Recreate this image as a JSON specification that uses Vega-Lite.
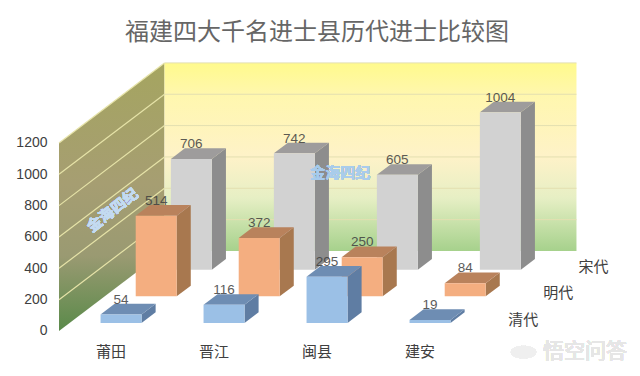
{
"$schema":"https://vega.github.io/schema/vega-lite/v6.json",
"width":590,"height":288,
"autosize":"none",
"padding":{"left":50,"top":50,"right":0,"bottom":38},
"background":"white",
"view":{"stroke":null},
"title":{"text":"福建四大千名进士县历代进士比较图","anchor":"start","frame":"group","dx":75,"offset":5,"fontSize":24,"fontWeight":"normal","font":"Noto Sans CJK SC","color":"#666666"},
"datasets":{
"walls":[{"z":0},{"z":3}],
"grid":[{"v":200},{"v":400},{"v":600},{"v":800},{"v":1000},{"v":1200}],
"depthLabels":[{"series":"清代","s":0},{"series":"明代","s":1},{"series":"宋代","s":2}]
},
"data":{"values":[
{"cat":"莆田","series":"清代","value":54},
{"cat":"晋江","series":"清代","value":116},
{"cat":"闽县","series":"清代","value":295},
{"cat":"建安","series":"清代","value":19},
{"cat":"莆田","series":"明代","value":514},
{"cat":"晋江","series":"明代","value":372},
{"cat":"闽县","series":"明代","value":250},
{"cat":"建安","series":"明代","value":84},
{"cat":"莆田","series":"宋代","value":706},
{"cat":"晋江","series":"宋代","value":742},
{"cat":"闽县","series":"宋代","value":605},
{"cat":"建安","series":"宋代","value":1004}
]},
"transform":[
{"calculate":"indexof(['莆田','晋江','闽县','建安'],datum.cat)+0.5","as":"cx"},
{"calculate":"indexof(['清代','明代','宋代'],datum.series)+0.3","as":"z0"},
{"calculate":"[0,1]","as":"e"},
{"flatten":["e"]},
{"calculate":"datum.cx-0.199+(datum.z0+0.4*datum.e)*0.3414","as":"xl"},
{"calculate":"datum.cx+0.199+(datum.z0+0.4*datum.e)*0.3414","as":"xr"},
{"calculate":"(datum.z0+0.4*datum.e)*170.2","as":"lo"},
{"calculate":"datum.value+datum.lo","as":"hi"},
{"calculate":"datum.cx+datum.z0*0.3414","as":"xc"},
{"calculate":"datum.value+(datum.z0+0.4)*170.2","as":"labelY"}
],
"layer":[
{"data":{"name":"walls"},
 "transform":[{"calculate":"datum.z*0.3414","as":"wx"},{"calculate":"datum.z*170.2","as":"wlo"},{"calculate":"datum.wlo+1200","as":"whi"}],
 "mark":{"type":"area","orient":"vertical","fill":{"gradient":"linear","x1":0,"y1":0,"x2":0,"y2":1,"stops":[{"offset":0,"color":"#A5A560"},{"offset":0.45,"color":"#A69E72"},{"offset":0.72,"color":"#9A9A72"},{"offset":1,"color":"#5A8A4A"}]}},
 "encoding":{
  "x":{"field":"wx","type":"quantitative","scale":{"domain":[-0.0874,5.641],"nice":false,"zero":false},
   "axis":{"values":[0.5,1.5,2.5,3.5],"title":null,"grid":false,"domain":false,"ticks":false,"labelPadding":6,"labelFontSize":15,"labelFont":"Noto Sans CJK SC","labelColor":"#404040","labelExpr":"['莆田','晋江','闽县','建安'][floor(datum.value)]"}},
  "y":{"field":"wlo","type":"quantitative","stack":null,"scale":{"domain":[-44.7,1793],"nice":false,"zero":false},
   "axis":{"values":[0,200,400,600,800,1000,1200],"format":"d","title":null,"grid":false,"domain":false,"ticks":false,"labelPadding":3,"labelFontSize":14,"labelFont":"Liberation Sans","labelColor":"#404040"}},
  "y2":{"field":"whi"}
 }},
{"data":{"name":"walls"},
 "transform":[{"aggregate":[{"op":"max","field":"z","as":"z"}]},{"calculate":"datum.z*0.3414","as":"a"},{"calculate":"datum.a+4","as":"b"},{"calculate":"datum.z*170.2","as":"c"},{"calculate":"datum.c+1200","as":"d"}],
 "mark":{"type":"rect","fill":{"gradient":"linear","x1":0,"y1":0,"x2":0,"y2":1,"stops":[{"offset":0,"color":"#FFFA8C"},{"offset":0.17,"color":"#FFF7AE"},{"offset":0.5,"color":"#FEF2C8"},{"offset":0.72,"color":"#E6EFC4"},{"offset":1,"color":"#A6D18C"}]}},
 "encoding":{"x":{"field":"a","type":"quantitative","axis":{"title":null}},"x2":{"field":"b"},"y":{"field":"c","type":"quantitative","axis":{"title":null}},"y2":{"field":"d"}}},
{"data":{"name":"grid"},
 "transform":[{"calculate":"0","as":"a"},{"calculate":"1.0242","as":"b"},{"calculate":"datum.v+510.6","as":"d"}],
 "mark":{"type":"rule","stroke":"#E6E3A8","strokeWidth":1.2},
 "encoding":{"x":{"field":"a","type":"quantitative","axis":{"title":null}},"x2":{"field":"b"},"y":{"field":"v","type":"quantitative","axis":{"title":null}},"y2":{"field":"d"}}},
{"data":{"name":"grid"},
 "transform":[{"calculate":"1.0242","as":"a"},{"calculate":"5.0242","as":"b"},{"calculate":"datum.v+510.6","as":"d"}],
 "mark":{"type":"rule","stroke":"#E3DFB0","strokeWidth":1},
 "encoding":{"x":{"field":"a","type":"quantitative","axis":{"title":null}},"x2":{"field":"b"},"y":{"field":"d","type":"quantitative","axis":{"title":null}}}},
{"mark":{"type":"text","text":"金海四纪","font":"Noto Sans CJK SC","fontWeight":"bold","fontSize":15,"angle":322,"fill":"#C5DCF2","opacity":0.75},
 "encoding":{"x":{"datum":0.52,"type":"quantitative","axis":{"title":null}},"y":{"datum":770,"type":"quantitative","axis":{"title":null}}}},
{"transform":[{"filter":"datum.series=='宋代'"}],"mark":{"type":"area","orient":"vertical","fill":"#8D8D8D"},
 "encoding":{"x":{"field":"xr","type":"quantitative","axis":{"title":null}},"y":{"field":"hi","type":"quantitative","stack":null,"axis":{"title":null}},"y2":{"field":"lo"},"detail":{"field":"cat"}}},
{"transform":[{"filter":"datum.series=='宋代'"}],"mark":{"type":"area","orient":"horizontal","fill":"#9E9C9C"},
 "encoding":{"y":{"field":"hi","type":"quantitative","axis":{"title":null}},"x":{"field":"xl","type":"quantitative","stack":null,"axis":{"title":null}},"x2":{"field":"xr"},"detail":{"field":"cat"}}},
{"transform":[{"filter":"datum.series=='宋代'&&datum.e==0"}],"mark":{"type":"rect","fill":"#D2D2D2"},
 "encoding":{"x":{"field":"xl","type":"quantitative","axis":{"title":null}},"x2":{"field":"xr"},"y":{"field":"hi","type":"quantitative","axis":{"title":null}},"y2":{"field":"lo"}}},
{"transform":[{"filter":"datum.series=='明代'"}],"mark":{"type":"area","orient":"vertical","fill":"#A8784F"},
 "encoding":{"x":{"field":"xr","type":"quantitative","axis":{"title":null}},"y":{"field":"hi","type":"quantitative","stack":null,"axis":{"title":null}},"y2":{"field":"lo"},"detail":{"field":"cat"}}},
{"transform":[{"filter":"datum.series=='明代'"}],"mark":{"type":"area","orient":"horizontal","fill":"#B9825C"},
 "encoding":{"y":{"field":"hi","type":"quantitative","axis":{"title":null}},"x":{"field":"xl","type":"quantitative","stack":null,"axis":{"title":null}},"x2":{"field":"xr"},"detail":{"field":"cat"}}},
{"transform":[{"filter":"datum.series=='明代'&&datum.e==0"}],"mark":{"type":"rect","fill":"#F4AE80"},
 "encoding":{"x":{"field":"xl","type":"quantitative","axis":{"title":null}},"x2":{"field":"xr"},"y":{"field":"hi","type":"quantitative","axis":{"title":null}},"y2":{"field":"lo"}}},
{"transform":[{"filter":"datum.series=='清代'"}],"mark":{"type":"area","orient":"vertical","fill":"#5F7DA3"},
 "encoding":{"x":{"field":"xr","type":"quantitative","axis":{"title":null}},"y":{"field":"hi","type":"quantitative","stack":null,"axis":{"title":null}},"y2":{"field":"lo"},"detail":{"field":"cat"}}},
{"transform":[{"filter":"datum.series=='清代'"}],"mark":{"type":"area","orient":"horizontal","fill":"#6E8DB3"},
 "encoding":{"y":{"field":"hi","type":"quantitative","axis":{"title":null}},"x":{"field":"xl","type":"quantitative","stack":null,"axis":{"title":null}},"x2":{"field":"xr"},"detail":{"field":"cat"}}},
{"transform":[{"filter":"datum.series=='清代'&&datum.e==0"}],"mark":{"type":"rect","fill":"#9BC0E6"},
 "encoding":{"x":{"field":"xl","type":"quantitative","axis":{"title":null}},"x2":{"field":"xr"},"y":{"field":"hi","type":"quantitative","axis":{"title":null}},"y2":{"field":"lo"}}},
{"transform":[{"filter":"datum.e==0"}],"mark":{"type":"text","font":"Liberation Sans","fontSize":13.5,"baseline":"bottom","dy":3,"fill":"#404040","opacity":0.85},
 "encoding":{"x":{"field":"xc","type":"quantitative","axis":{"title":null}},"y":{"field":"labelY","type":"quantitative","axis":{"title":null}},"text":{"field":"value","type":"quantitative"}}},
{"data":{"name":"depthLabels"},
 "transform":[{"calculate":"4.19+(datum.s+0.5)*0.3414","as":"dx"},{"calculate":"(datum.s+0.5)*170.2-15","as":"dy"}],
 "mark":{"type":"text","align":"left","baseline":"middle","font":"Noto Sans CJK SC","fontSize":15,"fill":"#404040"},
 "encoding":{"x":{"field":"dx","type":"quantitative","axis":{"title":null}},"y":{"field":"dy","type":"quantitative","axis":{"title":null}},"text":{"field":"series"}}},
{"mark":{"type":"text","text":"金海四纪","font":"Noto Sans CJK SC","fontWeight":"bold","fontSize":15,"fill":"#A9CCEE","opacity":0.4},
 "encoding":{"x":{"datum":2.73,"type":"quantitative","axis":{"title":null}},"y":{"datum":1010,"type":"quantitative","axis":{"title":null}}}},
{"mark":{"type":"point","filled":true,"shape":"M-1,0A1,0.5 0 1 1 1,0A1,0.5 0 1 1 -1,0Z","size":650,"fill":"#EFEFEF","opacity":1},
 "encoding":{"x":{"datum":4.51,"type":"quantitative","axis":{"title":null}},"y":{"datum":-135,"type":"quantitative","axis":{"title":null}}}},
{"mark":{"type":"text","text":"悟空问答","font":"Noto Sans CJK SC","fontSize":21,"fill":"#E6E6E6"},
 "encoding":{"x":{"datum":5.107,"type":"quantitative","axis":{"title":null}},"y":{"datum":-135,"type":"quantitative","axis":{"title":null}}}}
]
}
